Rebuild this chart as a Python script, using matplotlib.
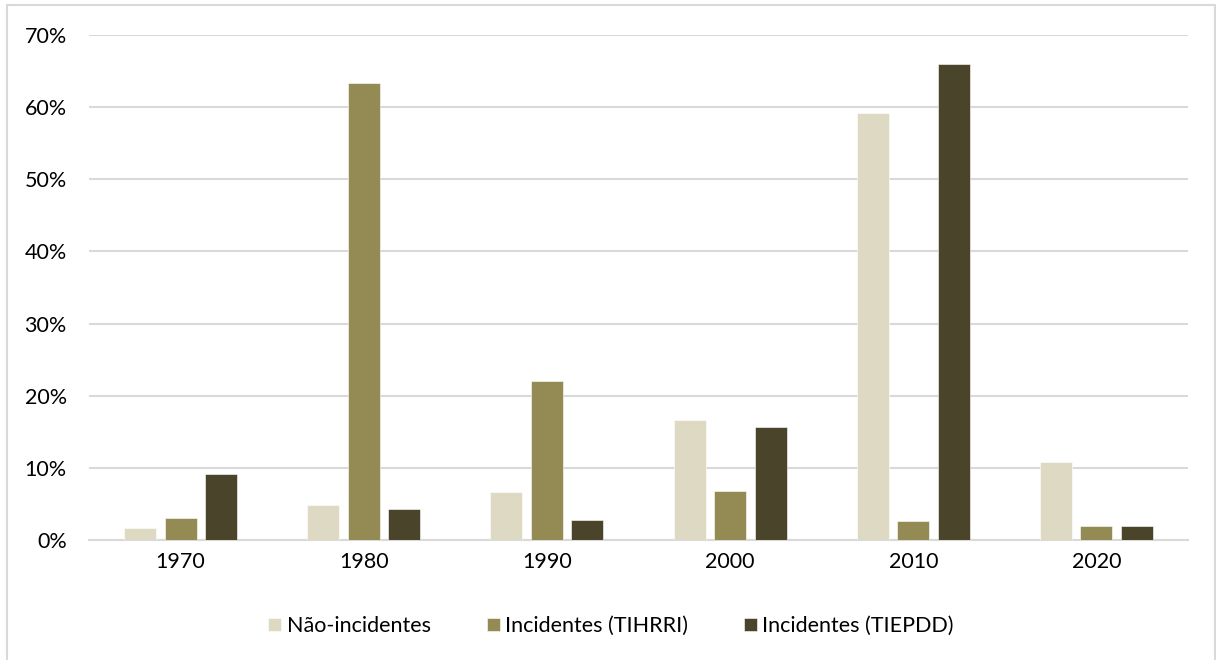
import matplotlib
matplotlib.use("Agg")
import matplotlib.pyplot as plt
import numpy as np
from matplotlib.patches import Rectangle
from matplotlib.ticker import PercentFormatter

# -- Data -------------------------------------------------------------------
decades = ["1970", "1980", "1990", "2000", "2010", "2020"]
nao_incidentes = [1.6, 4.8, 6.7, 16.6, 59.2, 10.8]
incidentes_tihrri = [3.1, 63.3, 22.0, 6.8, 2.6, 1.9]
incidentes_tiepdd = [9.1, 4.3, 2.8, 15.6, 66.0, 2.0]

series_labels = ["Não-incidentes", "Incidentes (TIHRRI)", "Incidentes (TIEPDD)"]
series_values = [nao_incidentes, incidentes_tihrri, incidentes_tiepdd]
COLORS = ["#DDD9C3", "#948A54", "#4A452A"]
GRID = "#D9D9D9"
TEXT = "#000000"
FS = 15.5

plt.rcParams["font.family"] = ["Lato", "DejaVu Sans"]

fig = plt.figure(figsize=(12.16, 6.6), dpi=100)
ax = fig.add_axes([89 / 1216, 120 / 660, (1188 - 89) / 1216, (540 - 35) / 660])

x = np.arange(len(decades))
bar_w = 0.175
step = 0.221
for i, (vals, lab, col) in enumerate(zip(series_values, series_labels, COLORS)):
    ax.bar(x + (i - 1) * step, vals, width=bar_w, color=col, label=lab,
           edgecolor="white", linewidth=0.4, zorder=3)

ax.set_xlim(-0.5, len(decades) - 0.5)
ax.set_ylim(0, 70)
ax.set_yticks(np.arange(0, 71, 10))
ax.yaxis.set_major_formatter(PercentFormatter(decimals=0))
ax.set_xticks(x)
ax.set_xticklabels(decades)
ax.grid(axis="y", color=GRID, linewidth=1.5, zorder=0)
ax.tick_params(length=0, labelsize=FS, colors=TEXT)
ax.tick_params(axis="x", pad=9)
ax.tick_params(axis="y", pad=16)
for side in ["top", "right", "left"]:
    ax.spines[side].set_visible(False)
ax.spines["bottom"].set_color(GRID)
ax.spines["bottom"].set_linewidth(1.5)

fig.legend(loc="center", bbox_to_anchor=(611 / 1216, 1 - 626 / 660), ncol=3,
           frameon=False, fontsize=FS, handlelength=0.6, handleheight=0.6,
           handletextpad=0.25, columnspacing=2.6)

# outer chart border
fig.patches.append(Rectangle((7 / 1216, -0.05), (1215 - 7) / 1216, 1.05 - 5 / 660,
                             transform=fig.transFigure, fill=False,
                             edgecolor=GRID, linewidth=1.5))

fig.savefig("out.png", dpi=100, facecolor="white")
